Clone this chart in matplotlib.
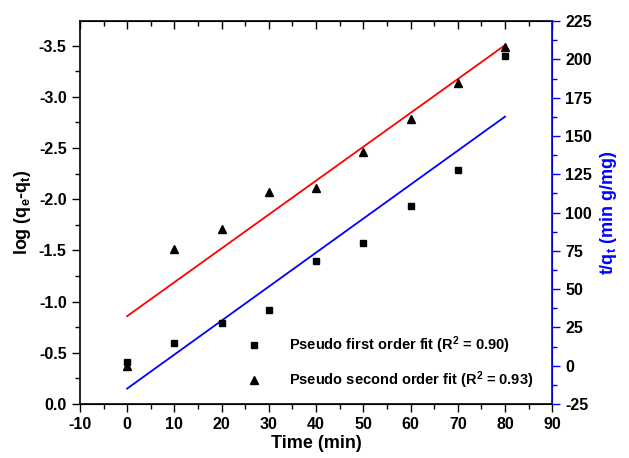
import numpy as np
import matplotlib.pyplot as plt
from matplotlib.lines import Line2D
from matplotlib.ticker import MultipleLocator

plt.rcParams["font.family"] = ["Liberation Sans", "DejaVu Sans"]
plt.rcParams["font.weight"] = "bold"
plt.rcParams["axes.unicode_minus"] = False
plt.rcParams["mathtext.fontset"] = "custom"
plt.rcParams["mathtext.rm"] = "Liberation Sans:bold"
plt.rcParams["mathtext.bf"] = "Liberation Sans:bold"
plt.rcParams["mathtext.default"] = "bf"

# data
time_min = [0, 10, 20, 30, 40, 50, 60, 70, 80]
log_qe_qt = [-0.41, -0.60, -0.795, -0.92, -1.395, -1.57, -1.935, -2.285, -3.395]
t_over_qt = [0.0, 76.0, 89.0, 113.2, 116.2, 139.7, 160.8, 184.3, 208.0]
labels = ["Pseudo first order fit (R$^2$ = 0.90)",
          "Pseudo second order fit (R$^2$ = 0.93)"]

fig = plt.figure(figsize=(6.29, 4.58), dpi=100)
ax = fig.add_axes([0.127, 0.118, 0.751, 0.836])
ax2 = ax.twinx()

# linear fits
x = np.array(time_min, dtype=float)
p1 = np.polyfit(x, log_qe_qt, 1)
p2 = np.polyfit(x, t_over_qt, 1)

ax.plot(x, np.polyval(p1, x), color="blue", lw=1.3)
ax.plot(x, log_qe_qt, "s", color="black", ms=5)
ax2.plot(x, np.polyval(p2, x), color="red", lw=1.3)
ax2.plot(x, t_over_qt, "^", color="black", ms=6)

ax.set_xlim(-10, 90)
ax.set_ylim(0, -3.74)
ax2.set_ylim(-25, 225)

ax.xaxis.set_major_locator(MultipleLocator(10))
ax.xaxis.set_minor_locator(MultipleLocator(5))
ax.yaxis.set_major_locator(MultipleLocator(0.5))
ax.yaxis.set_minor_locator(MultipleLocator(0.25))
ax2.yaxis.set_major_locator(MultipleLocator(25))
ax2.yaxis.set_minor_locator(MultipleLocator(12.5))

ax.tick_params(axis="both", which="both", direction="out", top=True, labelsize=11.5)
ax.tick_params(which="major", length=6, width=1)
ax.tick_params(which="minor", length=3.5, width=1)
for t in ax.xaxis.get_major_ticks() + ax.xaxis.get_minor_ticks():
    t.tick2line.set_marker(3)
ax2.tick_params(axis="y", which="both", direction="out", colors="blue",
                labelcolor="black", labelsize=11.5)
ax2.tick_params(which="major", length=6, width=1)
ax2.tick_params(which="minor", length=3.5, width=1)
for lab in ax.get_xticklabels() + ax.get_yticklabels() + ax2.get_yticklabels():
    lab.set_fontweight("bold")

for side in ["left", "bottom", "top"]:
    ax.spines[side].set_linewidth(1.2)
ax2.spines["right"].set_color("blue")
ax2.spines["right"].set_linewidth(1.2)
ax2.spines["left"].set_visible(False)

ax.set_xlabel("Time (min)", fontsize=13, fontweight="bold", labelpad=2)
ax.set_ylabel("log (q$_e$-q$_t$)", fontsize=13, fontweight="bold", labelpad=4)
ax2.set_ylabel("t/q$_t$ (min g/mg)", fontsize=13, fontweight="bold",
               color="blue", labelpad=4)

handles = [Line2D([], [], marker="s", ls="none", color="black", ms=5),
           Line2D([], [], marker="^", ls="none", color="black", ms=6)]
leg = ax.legend(handles, labels, frameon=False, loc="lower left",
                bbox_to_anchor=(0.31, 0.0), handletextpad=1.4,
                labelspacing=0.9, prop={"weight": "bold", "size": 10.5})

fig.savefig("out.png", dpi=100)
